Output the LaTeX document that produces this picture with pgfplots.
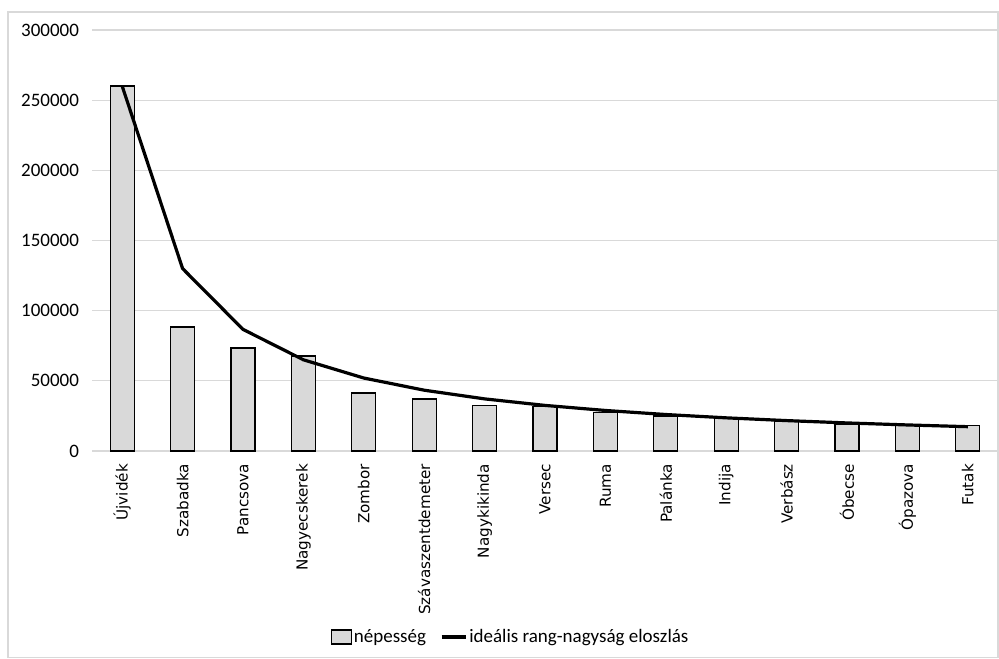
\documentclass[border=0pt]{standalone}
\usepackage{pgfplots}
\pgfplotsset{compat=1.18}
\usepackage{fontspec}
\setmainfont{Carlito}
\newfontfamily\labelfont{DejaVu Sans}
\definecolor{barfill}{HTML}{D9D9D9}
\definecolor{gridc}{HTML}{D9D9D9}
\pgfplotsset{
  barlegend/.style={legend image code/.code={\draw[fill=barfill, draw=black, line width=0.6pt] (0pt,-3.5pt) rectangle (10pt,3.5pt);}},
  linelegend/.style={legend image code/.code={\draw[black, line width=1.6pt] (0pt,0pt) -- (12pt,0pt);}},
}
\begin{document}
\begin{tikzpicture}
\path (0,0) rectangle (499.5pt,-329pt);
\draw[gridc, line width=0.6pt] (4pt,-6pt) rectangle (499pt,-328.7pt);
\begin{axis}[
  at={(46pt,-225.5pt)}, anchor=south west,
  scale only axis, width=453pt, height=210.5pt,
  xmin=-0.5, xmax=14.5, ymin=0, ymax=300000,
  ytick={0,50000,100000,150000,200000,250000,300000},
  scaled y ticks=false,
  /pgf/number format/assume math mode=true,
  yticklabel style={/pgf/number format/fixed, /pgf/number format/1000 sep={}, font=\fontsize{9.5}{11}\selectfont, xshift=-3pt},
  ymajorgrids, grid style={gridc, line width=0.6pt},
  separate axis lines,
  axis x line*=bottom, axis y line*=left,
  x axis line style={gridc, line width=0.6pt, -},
  y axis line style={draw=none},
  major tick length=0pt,
  xtick={0,...,14},
  xticklabels={Újvidék,Szabadka,Pancsova,Nagyecskerek,Zombor,Szávaszentdemeter,Nagykikinda,Versec,Ruma,Palánka,Indija,Verbász,Óbecse,Ópazova,Futak},
  xticklabel style={rotate=90, anchor=east, font=\labelfont\fontsize{7.6}{9}\selectfont},
  xticklabel shift=3pt,
  legend style={at={(0.462,-0.442)}, anchor=center, draw=none, legend columns=2, font=\fontsize{9.5}{11}\selectfont,
    /tikz/every even column/.append style={column sep=6pt},
    nodes={inner sep=1pt}},
]
\addplot[ybar, bar width=12pt, fill=barfill, draw=black, line width=0.6pt, barlegend] coordinates {
(0,260100) (1,88400) (2,73400) (3,67700) (4,41300) (5,37000) (6,32300) (7,31600) (8,27300) (9,25000) (10,23200) (11,20800) (12,19200) (13,17900) (14,18000)};
\addlegendentry{népesség}
\addplot[black, line width=1.6pt, sharp plot, linelegend] coordinates {
(0,260000) (1,130000) (2,86667) (3,65000) (4,52000) (5,43333) (6,37143) (7,32500) (8,28889) (9,26000) (10,23636) (11,21667) (12,20000) (13,18571) (14,17333)};
\addlegendentry{ideális rang-nagyság eloszlás}
\end{axis}
\end{tikzpicture}
\end{document}
